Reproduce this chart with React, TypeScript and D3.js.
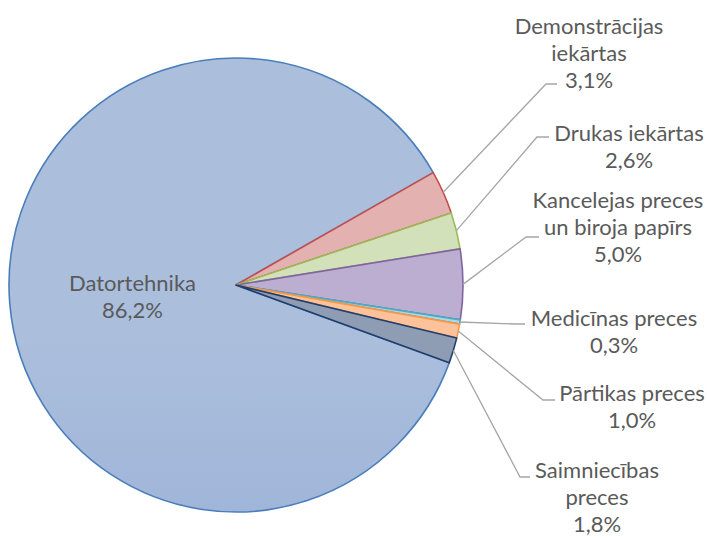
import React, { useEffect, useRef } from 'react';
import * as d3 from 'd3';

// pie data (percent of total)
const categories = [
  'Datortehnika',
  'Demonstrācijas iekārtas',
  'Drukas iekārtas',
  'Kancelejas preces un biroja papīrs',
  'Medicīnas preces',
  'Pārtikas preces',
  'Saimniecības preces',
];
const shares = [86.2, 3.1, 2.6, 5.0, 0.3, 1.0, 1.8];
// how each category name wraps in its label
const labelLines = [
  ['Datortehnika'],
  ['Demonstrācijas', 'iekārtas'],
  ['Drukas iekārtas'],
  ['Kancelejas preces', 'un biroja papīrs'],
  ['Medicīnas preces'],
  ['Pārtikas preces'],
  ['Saimniecības', 'preces'],
];

const fillTop = ['#abbedc', '#e3b1b0', '#d3e1bb', '#bbaed0', '#a9d8e6', '#fdc29a', '#8e9db4'];
const fillBottom = ['#8da7d4', '#d9a09f', '#c8d9aa', '#ae9fc6', '#9ccfdf', '#fcb488', '#8594aa'];
const strokes = ['#4a7ebb', '#c0504d', '#9bbb59', '#8064a2', '#4bacc6', '#f79646', '#203f6c'];

const W = 707;
const H = 538;
const cx = 236;
const cy = 285;
const R = 227;
const lineH = 27;

// outside label placement: text centre x, first baseline y, leader elbow and end
const outsideLabels: Record<number, { x: number; y: number; ex: number; ey: number; endX: number }> = {
  1: { x: 589, y: 34, ex: 546, ey: 84, endX: 557 },
  2: { x: 629, y: 141, ex: 537, ey: 137, endX: 549 },
  3: { x: 618, y: 208, ex: 526, ey: 237, endX: 539 },
  4: { x: 614, y: 326, ex: 515, ey: 324, endX: 525 },
  5: { x: 632, y: 401, ex: 543, ey: 400, endX: 555 },
  6: { x: 597, y: 478, ex: 520, ey: 477, endX: 530 },
};

const fmt = (v: number) => d3.format('.1f')(v).replace('.', ',') + '%';

export default function App() {
  const svgRef = useRef<SVGSVGElement>(null);

  useEffect(() => {
    const svg = d3.select(svgRef.current);
    svg.selectAll('*').remove();

    const data = categories.map((c, i) => ({ name: c, value: shares[i], i }));
    const start = (110 * Math.PI) / 180;
    const pie = d3
      .pie<{ name: string; value: number; i: number }>()
      .value(d => d.value)
      .sort(null)
      .startAngle(start)
      .endAngle(start + 2 * Math.PI);
    const arcs = pie(data);

    const arc = d3.arc<d3.PieArcDatum<any>>().innerRadius(0).outerRadius(R);
    const labelArc = d3.arc<d3.PieArcDatum<any>>().innerRadius(0).outerRadius(R * 0.915);

    // gradients
    const defs = svg.append('defs');
    data.forEach((d, i) => {
      const g = defs
        .append('linearGradient')
        .attr('id', `grad${i}`)
        .attr('gradientUnits', 'userSpaceOnUse')
        .attr('x1', 0)
        .attr('y1', cy - R)
        .attr('x2', 0)
        .attr('y2', cy + R);
      g.append('stop').attr('offset', '0%').attr('stop-color', fillTop[i]);
      g.append('stop').attr('offset', '100%').attr('stop-color', fillBottom[i]);
    });

    const g = svg.append('g').attr('transform', `translate(${cx},${cy})`);

    g.selectAll('path.slice')
      .data(arcs)
      .enter()
      .append('path')
      .attr('class', 'slice')
      .attr('d', arc)
      .attr('fill', d => `url(#grad${d.data.i})`)
      .attr('stroke', d => strokes[d.data.i])
      .attr('stroke-width', 1.6)
      .attr('stroke-linejoin', 'round');

    const textStyle = (sel: any) =>
      sel
        .attr('text-anchor', 'middle')
        .style('font-family', 'Lato, "Open Sans", sans-serif')
        .style('font-size', '22px')
        .style('fill', '#5a5a5a');

    arcs.forEach(a => {
      const i = a.data.i;
      const lines = [...labelLines[i], fmt(a.data.value)];
      const pos = outsideLabels[i];
      if (!pos) {
        // inside label
        const [lx, ly] = labelArc.centroid(a);
        const t = textStyle(g.append('text'));
        lines.forEach((ln, k) => {
          t.append('tspan')
            .attr('x', lx)
            .attr('y', ly - 3 + k * lineH)
            .text(ln);
        });
        return;
      }
      // leader line from middle of outer arc
      const mid = (a.startAngle + a.endAngle) / 2;
      const sx = cx + R * Math.sin(mid);
      const sy = cy - R * Math.cos(mid);
      svg
        .append('polyline')
        .attr('points', `${sx},${sy} ${pos.ex},${pos.ey} ${pos.endX},${pos.ey}`)
        .attr('fill', 'none')
        .attr('stroke', '#a6a6a6')
        .attr('stroke-width', 1.3);

      const t = textStyle(svg.append('text'));
      lines.forEach((ln, k) => {
        t.append('tspan')
          .attr('x', pos.x)
          .attr('y', pos.y + k * lineH)
          .text(ln);
      });
    });
  }, []);

  return (
    <svg
      ref={svgRef}
      width={W}
      height={H}
      style={{ position: 'absolute', left: 0, top: 0, background: '#fff' }}
    />
  );
}
